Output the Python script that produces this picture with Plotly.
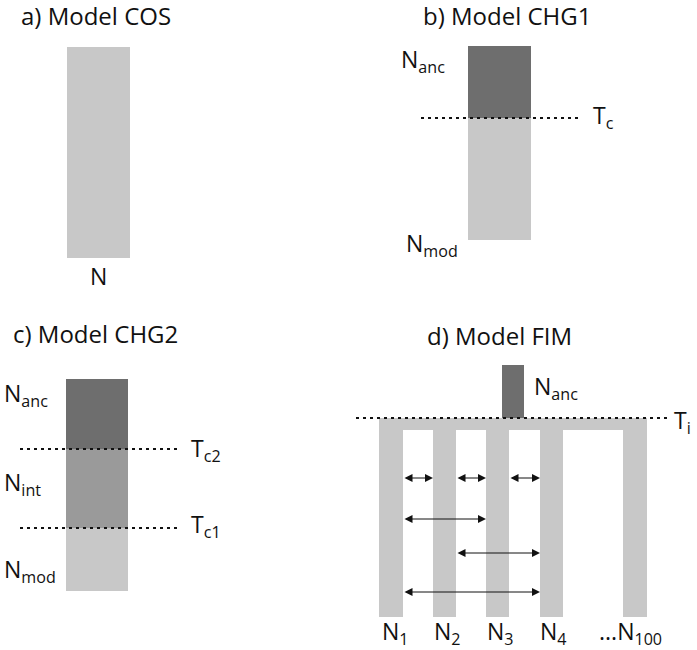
import plotly.graph_objects as go

# ---------------- Data ----------------
# population blocks: left, right, top, bottom (diagram units = page pixels)
block_left = [67, 468, 468, 66, 66, 66, 502, 379, 379, 433, 486, 540, 623]
block_right = [130, 531, 531, 128, 128, 128, 524, 647, 403, 456, 509, 563, 647]
block_top = [47, 46, 118, 379, 449, 528, 365, 418, 418, 418, 418, 418, 418]
block_bottom = [258, 240, 240, 449, 528, 591, 418, 430, 617, 617, 617, 617, 617]
block_kind = ["mod", "anc", "mod", "anc", "int", "mod", "anc",
              "mod", "mod", "mod", "mod", "mod", "mod"]

# time lines (dotted): x start, x end, y
tline_x0 = [421, 20, 20, 356]
tline_x1 = [578, 177, 177, 668]
tline_y = [118, 449, 528, 418]

# migration arrows in model FIM
mig_x0 = [403, 456, 509, 403, 456, 403]
mig_x1 = [433, 486, 540, 486, 540, 540]
mig_y = [478, 478, 478, 519, 553, 592]

titles = ["a) Model COS", "b) Model CHG1", "c) Model CHG2", "d) Model FIM"]
title_x = [19, 421, 11, 425]
title_y = [15, 15, 333, 335]

labels = ["N",
          "N<sub>anc</sub>", "T<sub>c</sub>", "N<sub>mod</sub>",
          "N<sub>anc</sub>", "N<sub>int</sub>", "N<sub>mod</sub>",
          "T<sub>c2</sub>", "T<sub>c1</sub>",
          "N<sub>anc</sub>", "T<sub>i</sub>",
          "N<sub>1</sub>", "N<sub>2</sub>", "N<sub>3</sub>", "N<sub>4</sub>",
          "...N<sub>100</sub>"]
label_x = [98, 399, 591, 404, 2, 2, 2, 189, 189, 532, 672,
           395, 447, 500, 553, 630]
label_y = [276, 60, 116, 244, 394, 483, 570, 449, 525, 387, 421,
           632, 632, 632, 632, 632]
label_anchor = ["center", "left", "left", "left", "left", "left", "left",
                "left", "left", "left", "left",
                "center", "center", "center", "center", "center"]

colors = {"anc": "#6e6e6e", "int": "#9a9a9a", "mod": "#c8c8c8"}

# ---------------- Figure ----------------
fig = go.Figure()

fig.add_trace(go.Bar(
    x=[(l + r) / 2 for l, r in zip(block_left, block_right)],
    width=[r - l for l, r in zip(block_left, block_right)],
    base=block_top,
    y=[b - t for t, b in zip(block_top, block_bottom)],
    marker_color=[colors[k] for k in block_kind],
    marker_line_width=0,
    hoverinfo="skip"
))

for x0, x1, y in zip(tline_x0, tline_x1, tline_y):
    fig.add_trace(go.Scatter(
        x=[x0, x1], y=[y, y],
        mode="lines",
        line=dict(color="#111111", width=2, dash="3px,4px"),
        hoverinfo="skip"
    ))

for x0, x1, y in zip(mig_x0, mig_x1, mig_y):
    fig.add_annotation(
        x=x1, y=y, ax=x0, ay=y,
        xref="x", yref="y", axref="x", ayref="y",
        text="", showarrow=True,
        arrowside="end+start", arrowhead=2,
        arrowsize=1.6, arrowwidth=1, arrowcolor="#111111"
    )

for t, x, y in zip(titles, title_x, title_y):
    fig.add_annotation(
        x=x, y=y, text=t, showarrow=False,
        xanchor="left", yanchor="middle",
        font=dict(size=24, color="#111111")
    )

for t, x, y, a in zip(labels, label_x, label_y, label_anchor):
    fig.add_annotation(
        x=x, y=y, text=t, showarrow=False,
        xanchor=a, yanchor="middle",
        font=dict(size=23, color="#111111")
    )

fig.update_layout(
    template="none",
    width=697,
    height=650,
    margin=dict(l=0, r=0, t=0, b=0),
    paper_bgcolor="white",
    plot_bgcolor="white",
    showlegend=False,
    barmode="overlay",
    bargap=0,
    font=dict(family="Open Sans", size=23, color="#111111")
)

fig.update_xaxes(range=[0, 697], visible=False, fixedrange=True)
fig.update_yaxes(range=[650, 0], visible=False, fixedrange=True)

fig.write_html(
    "out.html",
    config={"displayModeBar": False},
    post_script="document.body.style.margin='0';"
)
